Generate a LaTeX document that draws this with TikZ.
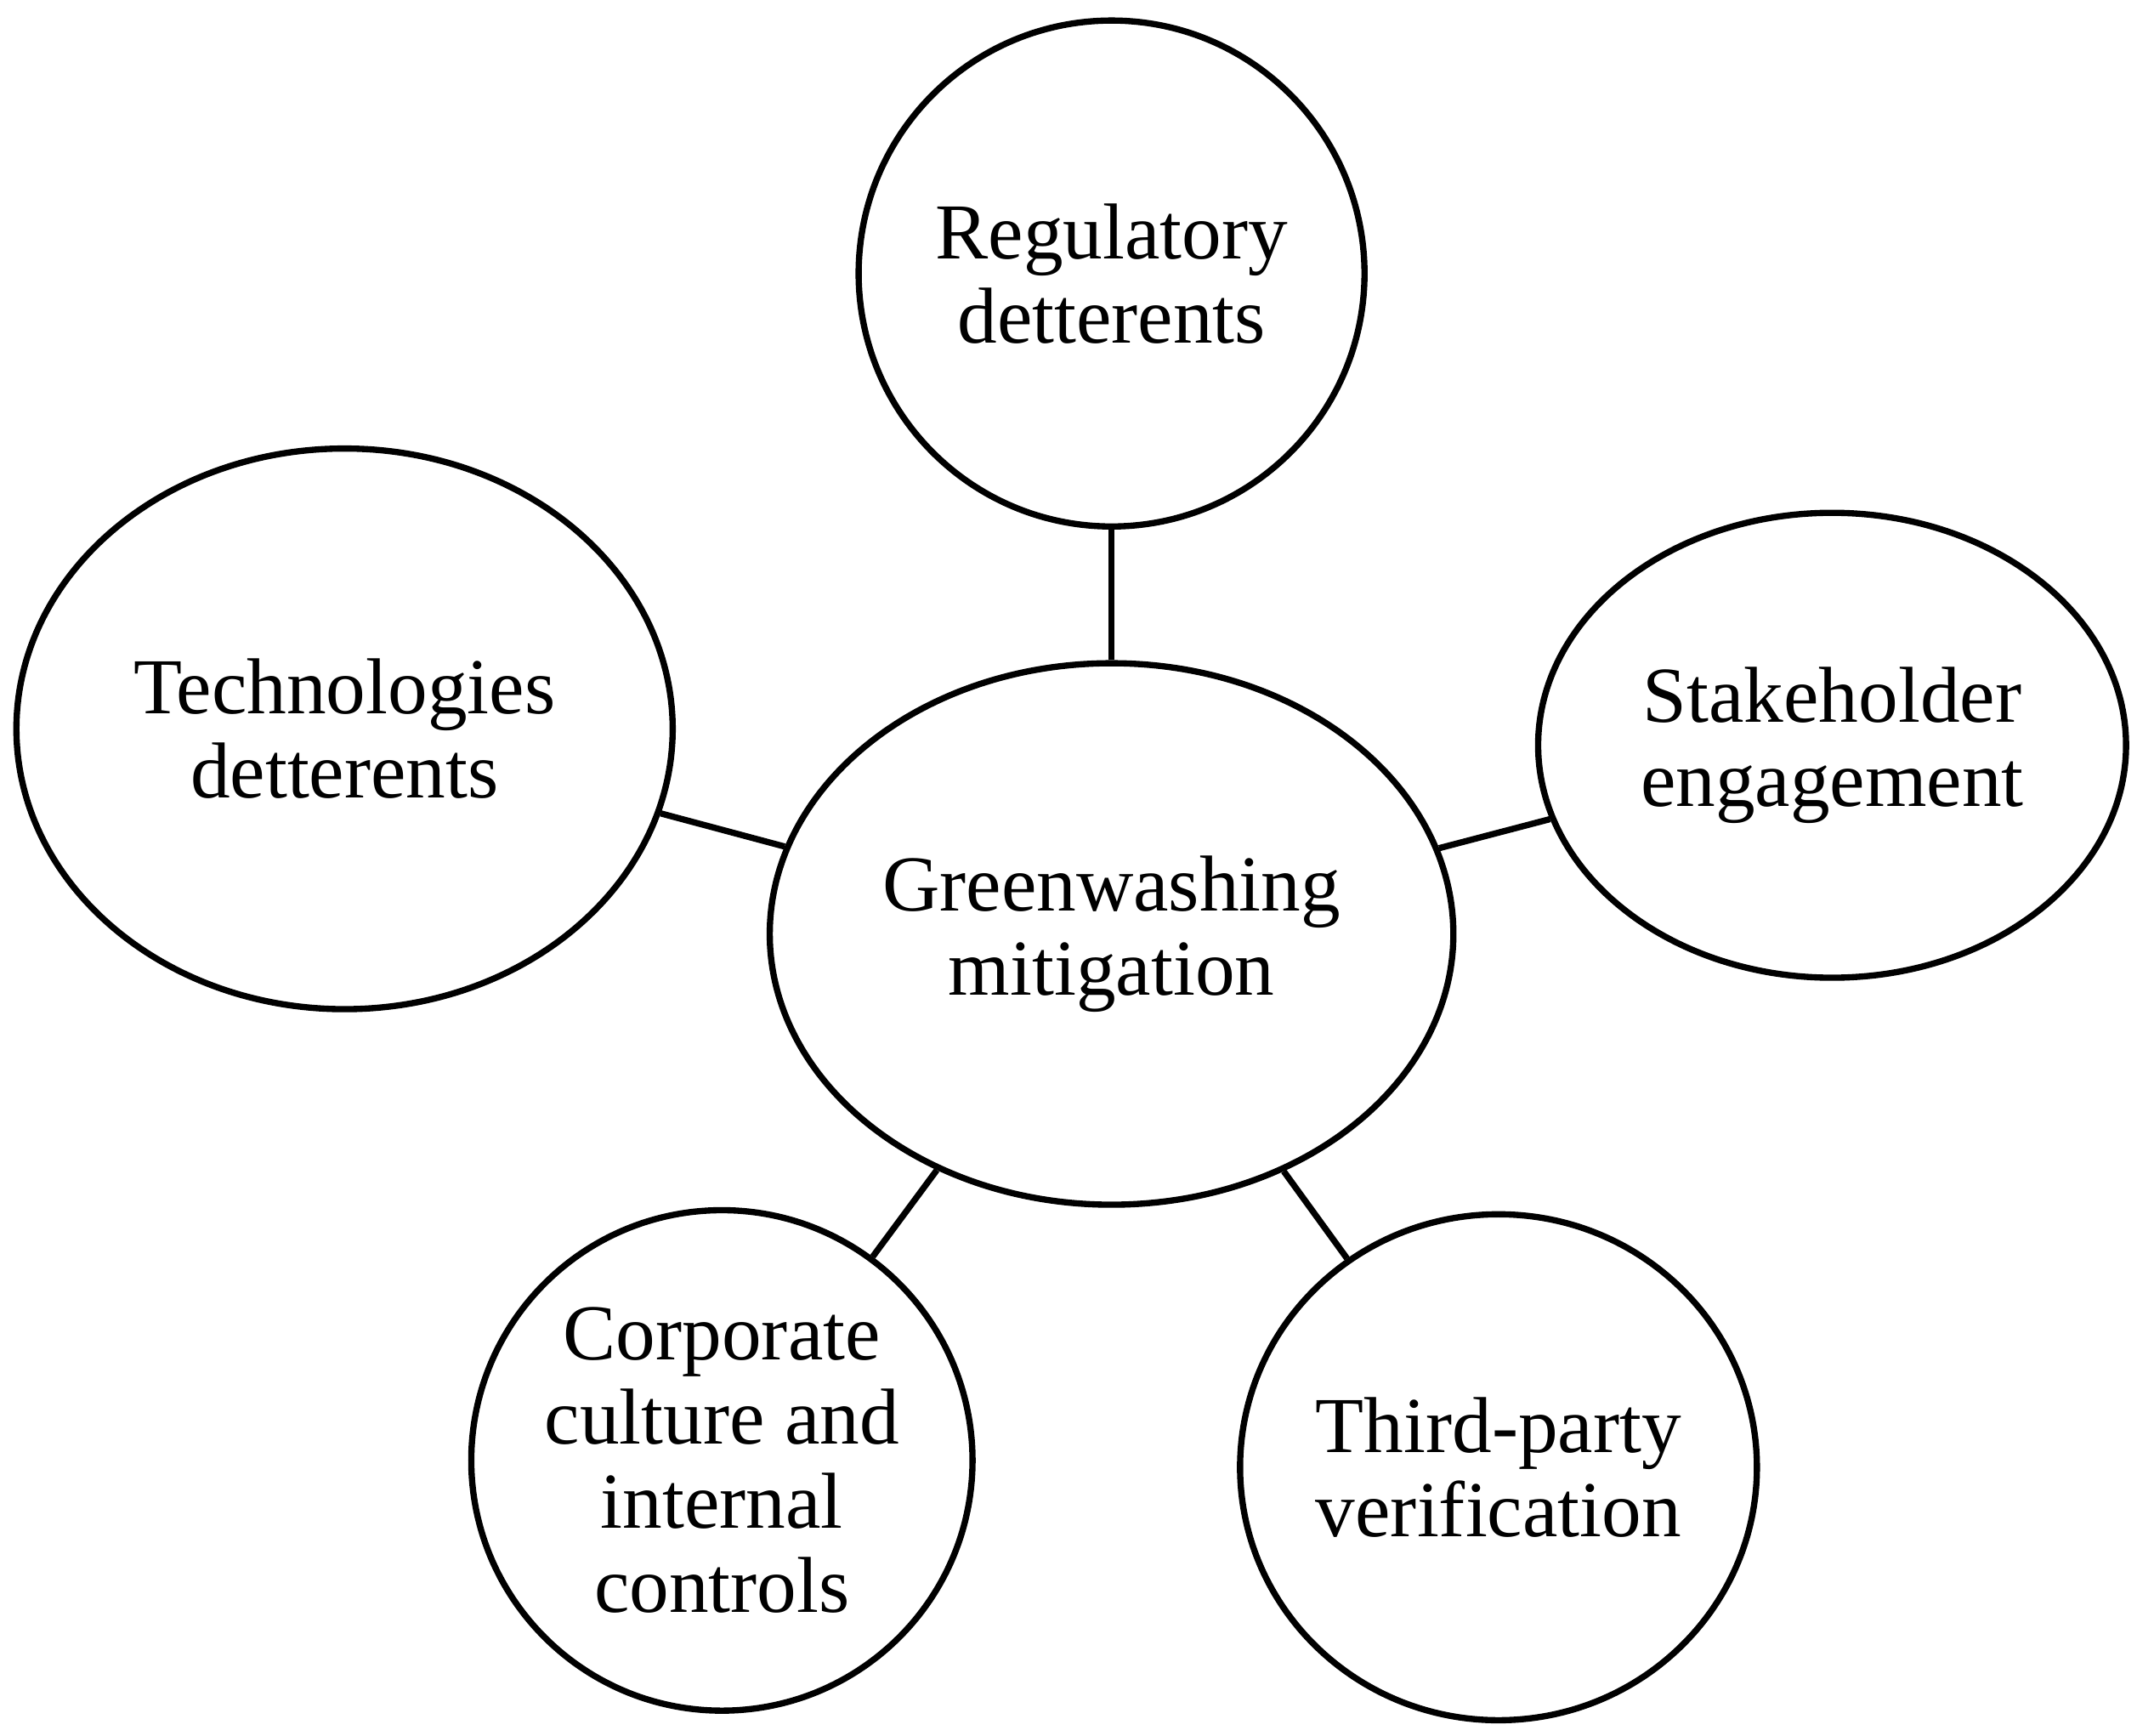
\documentclass[tikz,border=0pt]{standalone}
\usepackage{fontspec}
\setmainfont{Liberation Serif}
\usetikzlibrary{shapes.geometric}
\begin{document}
\begin{tikzpicture}[
  bub/.style={draw, ellipse, line width=1.3pt, inner sep=0pt, align=center,
    font=\fontsize{16.5}{17.5}\selectfont},
  link/.style={line width=1.3pt}]
\useasboundingbox (0,0) rectangle (15.63,-12.69);
\node[bub, minimum width=3.7cm, minimum height=3.7cm] (reg) at (8.13,-2.00) {Regulatory\\detterents};
\node[bub, minimum width=4.8cm, minimum height=4.1cm] (tech) at (2.52,-5.33) {Technologies\\detterents};
\node[bub, minimum width=4.3cm, minimum height=3.4cm] (stake) at (13.40,-5.45) {Stakeholder\\engagement};
\node[bub, minimum width=5.0cm, minimum height=3.96cm] (green) at (8.13,-6.83) {Greenwashing\\mitigation};
\node[bub, minimum width=3.64cm, minimum height=3.66cm] (corp) at (5.28,-10.68) {Corporate\\culture and\\internal\\controls};
\node[bub, minimum width=3.7cm, minimum height=3.7cm] (third) at (10.96,-10.73) {Third-party\\verification};
\draw[link] (green) -- (reg);
\draw[link] (green) -- (tech);
\draw[link] (green) -- (stake);
\draw[link] (green) -- (corp);
\draw[link] (green) -- (third);
\end{tikzpicture}
\end{document}
